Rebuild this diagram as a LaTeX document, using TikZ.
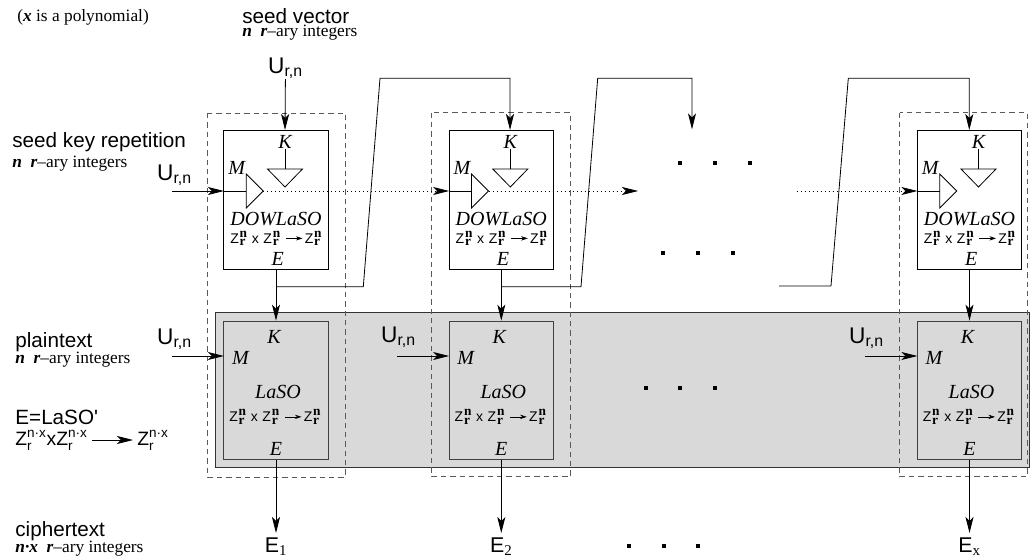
\documentclass[tikz,border=0pt]{standalone}
\usepackage{fontspec}
\usepackage{amsmath}
\setmainfont{Liberation Serif}
\newfontfamily\hv{Liberation Sans}
\usetikzlibrary{arrows.meta,calc}
\newcommand\Urn{$\text{U}_{\text{r,n}}$}
\newcommand\nrf{\fontsize{10}{10}\rmfamily\bfseries}
\newcommand\Zn{Z\kern0.6pt\rlap{\raisebox{-2pt}{\nrf r}}\raisebox{4.3pt}{\nrf n}}
\newcommand\ZZ{\text{Z}^{\text{n·x}}_{\text{r}}}
\newcommand\farr{\tikz[baseline=-3.6pt,x=1pt,y=1pt]\draw[line width=0.5pt,-{Stealth[length=5pt,width=3.2pt]}] (0,0)--(12.5,0);}
\newcommand\Zform{\Zn\hspace{3.5pt}x\hspace{3.5pt}\Zn\hspace{4pt}\farr\hspace{1.5pt}\Zn}
\newcommand\nri{{\bfseries\itshape n}\enspace{\bfseries\itshape r}--ary integers}
\begin{document}
\begin{tikzpicture}[x=0.75pt,y=-0.75pt,line width=0.6pt,
  sans/.style={font=\hv\fontsize{15.5}{18}\selectfont,inner sep=0pt,anchor=west},
  ser/.style={font=\fontsize{13}{15}\selectfont,inner sep=0pt,anchor=west},
  itl/.style={font=\itshape\fontsize{15}{17}\selectfont,inner sep=0pt},
  fml/.style={font=\hv\fontsize{10.5}{12}\selectfont,inner sep=0pt},
  ulab/.style={font=\hv\fontsize{17}{19}\selectfont,inner sep=0pt,anchor=south},
  elab/.style={font=\hv\fontsize{16}{18}\selectfont,inner sep=0pt,anchor=north},
  dowbox/.style={draw,minimum width=78.3pt,minimum height=104.25pt,inner sep=0pt},
  lasobox/.style={draw=black!75,minimum width=78.3pt,minimum height=103.7pt,inner sep=0pt},
  dbox/.style={draw=black!65,dash pattern=on 4pt off 3pt},
  band/.style={draw=black!80,fill=black!15},
  arr/.style={-{Stealth[length=12pt,width=6pt,inset=3pt]}},
  dotl/.style={dash pattern=on 0.7pt off 2.3pt}
]
\useasboundingbox (0,0) rectangle (1032,560);

% left labels
\node[ser] (poly) at (17,17) {({\bfseries\itshape x} is a polynomial)};
\node[sans] (sv) at (242,16) {seed vector};
\node[ser] (svn) at (242,33) {\nri};
\node[sans] (skr) at (12,142) {seed key repetition};
\node[ser] (skrn) at (12,164) {\nri};
\node[sans] (pt) at (15,342) {plaintext};
\node[ser] (ptn) at (15,360) {\nri};
\node[sans] (eq) at (15,417) {E=LaSO'};
\node[sans,font=\hv\fontsize{14.5}{17}\selectfont] (zl) at (15,440) {$\ZZ$x$\ZZ$};
\node[sans,font=\hv\fontsize{14.5}{17}\selectfont] (zr) at (137,440) {$\ZZ$};
\draw[arr,shorten <=3pt,shorten >=3pt] (zl) -- (zr);
\node[sans] (ct) at (15,531) {ciphertext};
\node[ser] (ctn) at (15,549) {{\bfseries\itshape n·x}\enspace{\bfseries\itshape r}--ary integers};

% gray band and dashed frames
\draw[band] (215.7,312.3) rectangle (1029.3,467.7);
\draw[dbox] (207.5,113) rectangle (345.3,477);
\draw[dbox] (431.7,112.7) rectangle (570.7,476.7);
\draw[dbox] (899.5,112.7) rectangle (1027,476.7);

% columns
\foreach \i/\c/\k in {1/276/285, 2/501.3/510, 3/969.5/969.3} {
  \node[dowbox] (d\i) at (\c,199.5) {};
  \node[lasobox] (l\i) at (\c,390.15) {};
  \node[itl] (K\i) at (\c+9,141.7) {K};
  \node[itl] (M\i) at (\c-39.3,168) {M};
  \node[itl] (dn\i) at (\c,219) {DOWLaSO};
  \node[fml] (df\i) at (\c,238.5) {\Zform};
  \node[itl] (dE\i) at (\c+1.7,259) {E};
  \draw (K\i.south) -- (\c+9,169);
  \draw (\c-8.5,169) -- (\c+26.5,169) -- (\c+9,187) -- cycle;
  \draw (\c-52.2,191) -- (\c-29.8,191);
  \draw (\c-29.8,174) -- (\c-12.8,191) -- (\c-29.8,208) -- cycle;
  \node[itl] (lK\i) at (\c-2,336.7) {K};
  \node[itl] (lM\i) at (\c-35.5,358) {M};
  \node[itl] (ln\i) at (\c+2,392) {LaSO};
  \node[fml] (lf\i) at (\c-1,417) {\Zform};
  \node[itl] (lE\i) at (\c,449) {E};
  \draw[arr] (d\i) -- (l\i);
  \coordinate (k\i) at (\k,130);
  \coordinate (a\i) at (\c-12.8,191);
  \coordinate (m\i) at (\c-52.2,191);
  \coordinate (j\i) at (\c,286.7);
  \coordinate (lm\i) at (\c-52.2,356);
}

% outputs
\node[elab] (E1) at (276,537) {E$_{\text{\rmfamily 1}}$};
\node[elab] (E2) at (501.3,537) {E$_{\text{\rmfamily 2}}$};
\node[elab] (E3) at (969.5,537) {E$_{\text{\rmfamily x}}$};
\foreach \i in {1,2,3} \draw[arr,shorten >=3pt] (l\i) -- (E\i);

% seed inputs
\node[ulab] (us) at (285.5,79) {\Urn};
\draw[arr] (us) -- (k1);
\node[ulab] (uk) at (174.5,186) {\Urn};
\coordinate (uks) at (172,191);
\draw[arr] (uks) -- (m1);

% plaintext inputs
\node[ulab] (up1) at (174.5,350) {\Urn};
\node[ulab] (up2) at (398.5,348) {\Urn};
\node[ulab] (up3) at (866.5,349) {\Urn};
\coordinate (ps1) at (172,356);
\coordinate (ps2) at (397.3,356);
\coordinate (ps3) at (865,356);
\foreach \i in {1,2,3} \draw[arr] (ps\i) -- (lm\i);

% key chaining
\coordinate (k4) at (692,129.3);
\coordinate (s3) at (779,286);
\draw[arr] (j1) -- (363.3,286.7) -- (380,78.3) -- (510,78.3) -- (k2);
\draw[arr] (j2) -- (581,286.7) -- (597.7,78.3) -- (692,78.3) -- (k4);
\draw[arr] (s3) -- (831,286) -- (848.3,78.3) -- (969.3,78.3) -- (k3);

% dotted message chaining
\coordinate (t2) at (638,191);
\coordinate (s2) at (796.7,191);
\draw[dotl,arr] (a1) -- (m2);
\draw[dotl,arr] (a2) -- (t2);
\draw[dotl,arr] (s2) -- (m3);

% ellipsis dots
\foreach \x/\y in {680/162.7,715/162.7,750/162.7,662.7/253.3,697.7/253.3,732.7/253.3,645.7/387.7,680.3/387.7,715/387.7,629/546,664/546,698/546}
  \fill (\x-2,\y-2) rectangle (\x+2,\y+2);
\end{tikzpicture}
\end{document}
